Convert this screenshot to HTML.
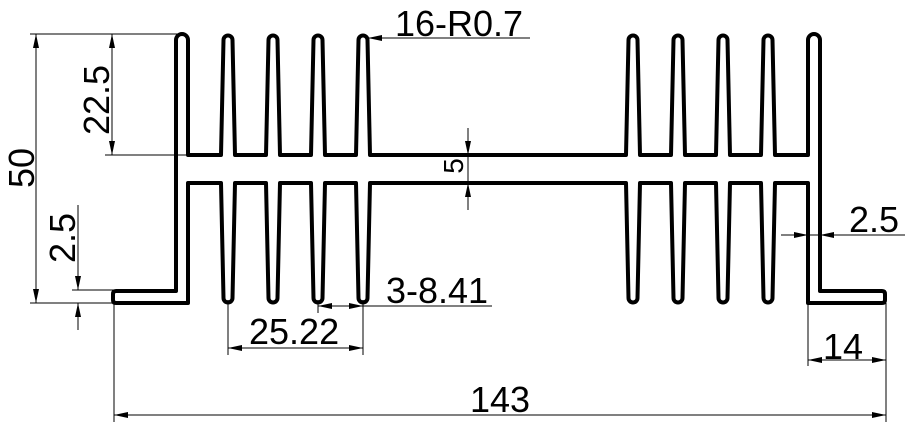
<!DOCTYPE html>
<html><head><meta charset="utf-8"><style>
html,body{margin:0;padding:0;background:#fff}
svg{display:block}
text{font-family:"Liberation Sans",Arial,sans-serif;font-size:36px;fill:#000}
</style></head><body>
<svg width="911" height="430" viewBox="0 0 911 430" xmlns="http://www.w3.org/2000/svg">
<defs>
<marker id="a" viewBox="0 0 14 6" refX="14" refY="3" markerWidth="14" markerHeight="6" markerUnits="userSpaceOnUse" orient="auto-start-reverse"><path d="M0,0 L14,3 L0,6 Z" fill="#000"/></marker>
</defs>
<path fill="none" stroke="#000" stroke-width="4" stroke-linejoin="round" d="
M176,291 L176,40 A6,6 0 0 1 188,40 L188,155
L221,155 L223.5,40 A4.5,4.5 0 0 1 232.5,40 L235,155
L266,155 L268.5,40 A4.5,4.5 0 0 1 277.5,40 L280,155
L311,155 L313.5,40 A4.5,4.5 0 0 1 322.5,40 L325,155
L356,155 L358.5,40 A4.5,4.5 0 0 1 367.5,40 L370,155
L626,155 L628.5,40 A4.5,4.5 0 0 1 637.5,40 L640,155
L671,155 L673.5,40 A4.5,4.5 0 0 1 682.5,40 L685,155
L716,155 L718.5,40 A4.5,4.5 0 0 1 727.5,40 L730,155
L761,155 L763.5,40 A4.5,4.5 0 0 1 772.5,40 L775,155
L808,155 L808,40 A6,6 0 0 1 820,40 L820,291 L882,291 Q885,291 885,294 L885,300 Q885,303 882,303 L808,303 L808,183
L775,183 L772.5,298 A4.5,4.5 0 0 1 763.5,298 L761,183
L730,183 L727.5,298 A4.5,4.5 0 0 1 718.5,298 L716,183
L685,183 L682.5,298 A4.5,4.5 0 0 1 673.5,298 L671,183
L640,183 L637.5,298 A4.5,4.5 0 0 1 628.5,298 L626,183
L370,183 L367.5,298 A4.5,4.5 0 0 1 358.5,298 L356,183
L325,183 L322.5,298 A4.5,4.5 0 0 1 313.5,298 L311,183
L280,183 L277.5,298 A4.5,4.5 0 0 1 268.5,298 L266,183
L235,183 L232.5,298 A4.5,4.5 0 0 1 223.5,298 L221,183
L188,183 L188,303 L116,303 Q113,303 113,300 L113,294 Q113,291 116,291 Z"/>
<g stroke="#000" stroke-width="1" fill="none">
<line x1="30" y1="34" x2="180" y2="34"/>
<line x1="30" y1="303" x2="113" y2="303"/>
<line x1="36" y1="34" x2="36" y2="303" marker-start="url(#a)" marker-end="url(#a)"/>
<line x1="105" y1="155" x2="190" y2="155"/>
<line x1="112" y1="34" x2="112" y2="155" marker-start="url(#a)" marker-end="url(#a)"/>
<line x1="72" y1="290" x2="115" y2="290"/>
<line x1="78" y1="205" x2="78" y2="290" marker-end="url(#a)"/>
<line x1="78" y1="330" x2="78" y2="303" marker-end="url(#a)"/>
<line x1="114" y1="303" x2="114" y2="422"/>
<line x1="886" y1="303" x2="886" y2="422"/>
<line x1="114" y1="415" x2="886" y2="415" marker-start="url(#a)" marker-end="url(#a)"/>
<line x1="808" y1="305" x2="808" y2="366"/>
<line x1="808" y1="360" x2="886" y2="360" marker-start="url(#a)" marker-end="url(#a)"/>
<line x1="781" y1="235" x2="808" y2="235" marker-end="url(#a)"/>
<line x1="848" y1="235" x2="820" y2="235" marker-end="url(#a)"/>
<line x1="808" y1="235" x2="820" y2="235"/>
<line x1="848" y1="235" x2="905" y2="235"/>
<line x1="468" y1="128" x2="468" y2="155" marker-end="url(#a)"/>
<line x1="468" y1="210" x2="468" y2="183" marker-end="url(#a)"/>
<line x1="468" y1="155" x2="468" y2="183"/>
<line x1="530" y1="38" x2="368" y2="38" marker-end="url(#a)"/>
<line x1="228" y1="300" x2="228" y2="355"/>
<line x1="363" y1="300" x2="363" y2="355"/>
<line x1="228" y1="348" x2="363" y2="348" marker-start="url(#a)" marker-end="url(#a)"/>
<line x1="318" y1="300" x2="318" y2="313"/>
<line x1="318" y1="306" x2="363" y2="306" marker-start="url(#a)" marker-end="url(#a)"/>
<line x1="363" y1="306" x2="492" y2="306"/>
</g>
<text x="395" y="36">16-R0.7</text>
<text x="386" y="303">3-8.41</text>
<text x="249" y="344">25.22</text>
<text x="823" y="359">14</text>
<text x="470" y="412">143</text>
<text x="849" y="232">2.5</text>
<text transform="translate(34,168) rotate(-90)" text-anchor="middle">50</text>
<text transform="translate(109,100) rotate(-90)" text-anchor="middle">22.5</text>
<text transform="translate(75,238) rotate(-90)" text-anchor="middle">2.5</text>
<text transform="translate(463,166) rotate(-90)" text-anchor="middle" style="font-size:28px">5</text>
</svg>
</body></html>
